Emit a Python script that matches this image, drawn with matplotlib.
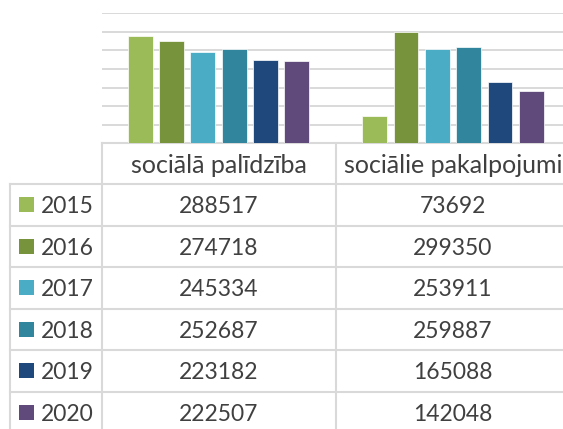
import numpy as np
import matplotlib.pyplot as plt
from matplotlib.patches import Rectangle

# data
categories = ['sociālā palīdzība', 'sociālie pakalpojumi']
years = ['2015', '2016', '2017', '2018', '2019', '2020']
palidziba = [288517, 274718, 245334, 252687, 223182, 222507]
pakalpojumi = [73692, 299350, 253911, 259887, 165088, 142048]
colors = ['#9BBB59', '#77933C', '#4BACC6', '#31859C', '#1F497D', '#604A7B']

plt.rcParams['font.family'] = ['Lato', 'DejaVu Sans']
txt_color = '#404040'
line_color = '#D9D9D9'

W, H = 563, 429
fig = plt.figure(figsize=(W / 100, H / 100), dpi=100)

# table layer in pixel coordinates
tab = fig.add_axes([0, 0, 1, 1])
tab.set_xlim(0, W)
tab.set_ylim(H, 0)
tab.axis('off')

# bar chart
ax_left, ax_base, ax_top = 101.7, 143.3, 13.3
ax = fig.add_axes([ax_left / W, (H - ax_base) / H, (W - ax_left) / W, (ax_base - ax_top) / H])
ax.patch.set_alpha(0)
values = np.array([palidziba, pakalpojumi])
x = np.arange(len(categories))
step = 0.1335
for i, yr in enumerate(years):
    ax.bar(x + (i - 2.5) * step, values[:, i], width=0.106, color=colors[i],
           edgecolor='white', linewidth=0.5, zorder=3)
ax.set_xlim(-0.498, 1.469)
ax.set_ylim(0, 350000)
ax.set_yticks(np.arange(0, 350001, 50000))
ax.grid(axis='y', color=line_color, linewidth=1.4, zorder=0)
ax.set_xticks([])
ax.tick_params(left=False, labelleft=False)
for s in ax.spines.values():
    s.set_visible(False)

# data table under the chart
col_edges = [10, ax_left, 335.7, 570]
head_top, head_bot = ax_base, 184.0
row_h = 41.55
row_tops = head_bot + row_h * np.arange(len(years) + 1)
lw = 1.5

tab.plot([col_edges[1], W], [head_top, head_top], color=line_color, lw=lw)
for yt in row_tops:
    tab.plot([col_edges[0], W], [yt, yt], color=line_color, lw=lw)
tab.plot([col_edges[0], col_edges[0]], [head_bot, H], color=line_color, lw=lw)
for xe in col_edges[1:3]:
    tab.plot([xe, xe], [head_top, H], color=line_color, lw=lw)

fs = 16.5
col_centers = [(col_edges[1] + col_edges[2]) / 2, (col_edges[2] + col_edges[3]) / 2]
for j, cat in enumerate(categories):
    tab.text(col_centers[j], 173.3, cat, ha='center', va='baseline',
             fontsize=18, color=txt_color)

for i, yr in enumerate(years):
    top = row_tops[i]
    tab.add_patch(Rectangle((19, top + 13), 15, 15, color=colors[i], lw=0))
    tab.text(41, top + 29, yr, ha='left', va='baseline', fontsize=fs, color=txt_color)
    for j in range(len(categories)):
        tab.text(col_centers[j], top + 29, str(values[j, i]), ha='center',
                 va='baseline', fontsize=fs, color=txt_color)

fig.savefig('out.png', dpi=100)
